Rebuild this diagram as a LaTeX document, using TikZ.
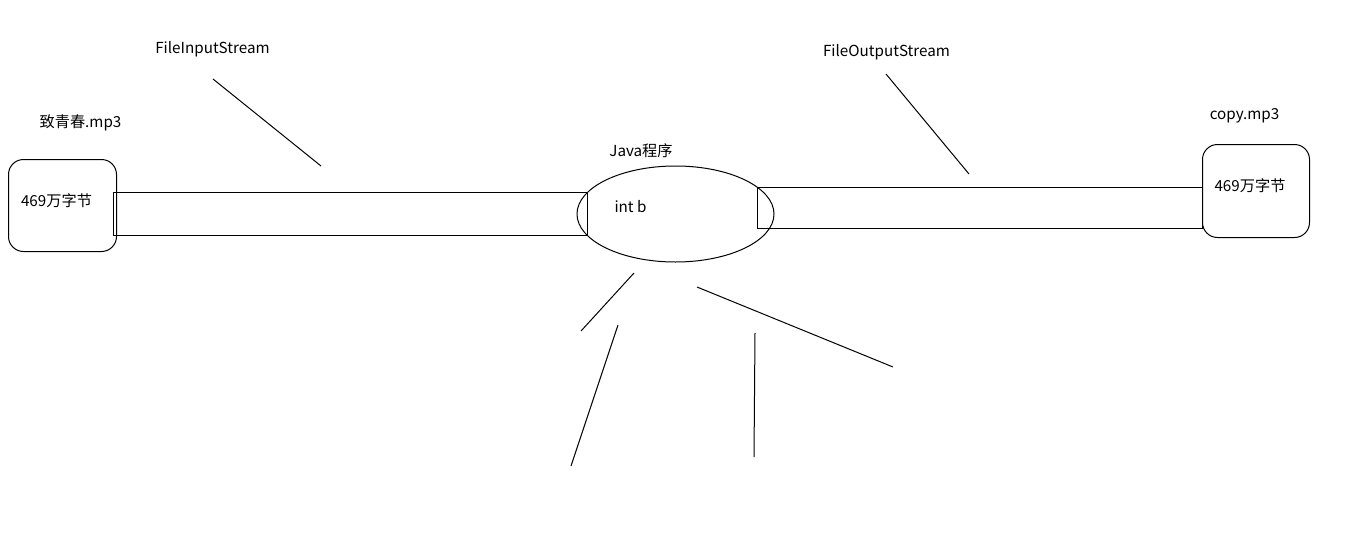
\documentclass[tikz,border=0pt]{standalone}
\usepackage{fontspec}
\newfontfamily\cjk{Noto Sans CJK SC}
\usetikzlibrary{shapes.geometric}
\tikzset{
  px/.style={x=1pt,y=-1pt},
  stroke/.style={line width=1pt,black},
  lbl/.style={font=\cjk\fontsize{15.2}{18}\selectfont,inner sep=0pt,anchor=base,text=black},
  filebox/.style={stroke,draw,rounded corners=15pt,inner sep=0pt,anchor=north west},
  pipe/.style={stroke,draw,inner sep=0pt,anchor=north west},
}
\begin{document}
\begin{tikzpicture}[px]
\useasboundingbox (0,0) rectangle (1350,552);
% pipes
\node[pipe,minimum width=474pt,minimum height=43pt] (lpipe) at (113,192) {};
\node[pipe,minimum width=445pt,minimum height=41pt] (rpipe) at (757,187) {};
% files
\node[filebox,minimum width=108pt,minimum height=92pt] (lbox) at (8,159) {};
\node[filebox,minimum width=107pt,minimum height=93pt] (rbox) at (1202,144) {};
% program
\node[stroke,draw,ellipse,minimum width=197pt,minimum height=96pt,inner sep=0pt] (prog) at (675.5,214) {};
% labels
\node[lbl] (fis) at (212.5,53) {FileInputStream};
\node[lbl] (fos) at (886.5,56) {FileOutputStream};
\node[lbl] (src) at (80.5,127) {致青春.mp3};
\node[lbl] (lsize) at (56.5,206) {469万字节};
\node[lbl] (java) at (641,156) {Java程序};
\node[lbl] (intb) at (630.5,212) {int b};
\node[lbl] (dst) at (1244.5,119) {copy.mp3};
\node[lbl] (rsize) at (1250,191) {469万字节};
% free strokes
\coordinate (a1) at (213,79); \coordinate (a2) at (321,166);
\coordinate (b1) at (886,74); \coordinate (b2) at (969,174);
\coordinate (c1) at (634,273); \coordinate (c2) at (581,331);
\coordinate (d1) at (618,325); \coordinate (d2) at (571,466);
\coordinate (e1) at (697,287); \coordinate (e2) at (893,367);
\coordinate (f1) at (755,333); \coordinate (f2) at (754,457);
\draw[stroke] (a1) -- (a2);
\draw[stroke] (b1) -- (b2);
\draw[stroke] (c1) -- (c2);
\draw[stroke] (d1) -- (d2);
\draw[stroke] (e1) -- (e2);
\draw[stroke] (f1) -- (f2);
\end{tikzpicture}
\end{document}
